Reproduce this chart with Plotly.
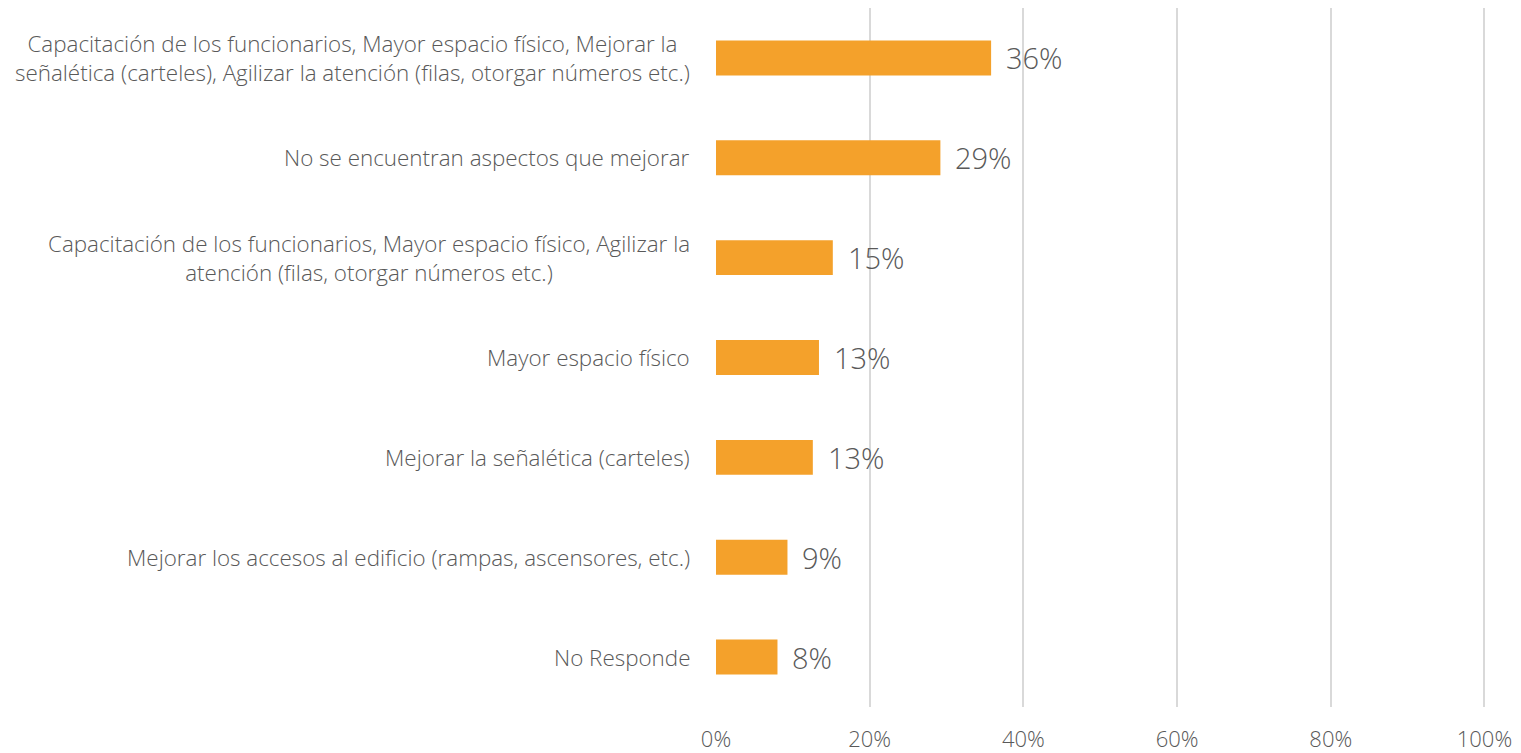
"""Horizontal bar chart: aspectos a mejorar en la atención."""

import plotly.graph_objects as go

categorias = [
    "Capacitación de los funcionarios, Mayor espacio físico, Mejorar la<br>"
    "señalética (carteles), Agilizar la atención (filas, otorgar números etc.)",
    "No se encuentran aspectos que mejorar",
    "Capacitación de los funcionarios, Mayor espacio físico, Agilizar la<br>"
    "atención (filas, otorgar números etc.)",
    "Mayor espacio físico",
    "Mejorar la señalética (carteles)",
    "Mejorar los accesos al edificio (rampas, ascensores, etc.)",
    "No Responde",
]
valores = [0.358, 0.292, 0.152, 0.134, 0.126, 0.093, 0.080]
etiquetas = ["36%", "29%", "15%", "13%", "13%", "9%", "8%"]

tick_vals = [0, 0.2, 0.4, 0.6, 0.8, 1.0]
tick_text = ["0%", "20%", "40%", "60%", "80%", "100%"]

GRIS = "#595959"
FONT = "Open Sans"

fig = go.Figure(
    go.Bar(
        x=valores,
        y=categorias,
        orientation="h",
        width=0.35,
        marker=dict(color="#F4A12B", line=dict(width=0)),
        hoverinfo="skip",
    )
)

# category labels centered per line, right edge near the axis (like Excel)
for cat in categorias:
    fig.add_annotation(
        x=0, xref="paper", y=cat, yref="y",
        text=cat, showarrow=False, xanchor="right", align="center",
        xshift=-24,
        font=dict(family=FONT, size=22.4, color=GRIS, weight=300),
    )

# data labels
for val, lab, cat in zip(valores, etiquetas, categorias):
    fig.add_annotation(
        x=val, y=cat, text=lab, showarrow=False, xanchor="left",
        xshift=13,
        font=dict(family=FONT, size=29, color=GRIS, weight=300),
    )

# page body has an 8px margin, so the figure is offset inside the window
fig.update_layout(
    width=1513,
    height=745,
    paper_bgcolor="white",
    plot_bgcolor="white",
    margin=dict(l=708, r=35, t=0, b=46),
    showlegend=False,
)
fig.update_xaxes(
    range=[0, 1.002],
    tickvals=tick_vals,
    ticktext=tick_text,
    showgrid=True,
    gridcolor="#D9D9D9",
    gridwidth=2,
    zeroline=False,
    showline=False,
    ticks="",
    ticklabelstandoff=17,
    automargin=False,
    tickfont=dict(family=FONT, size=22, color=GRIS, weight=300),
)
fig.update_yaxes(
    autorange="reversed",
    showticklabels=False,
    showgrid=False,
    zeroline=False,
    showline=False,
)

fig.write_html("out.html")
